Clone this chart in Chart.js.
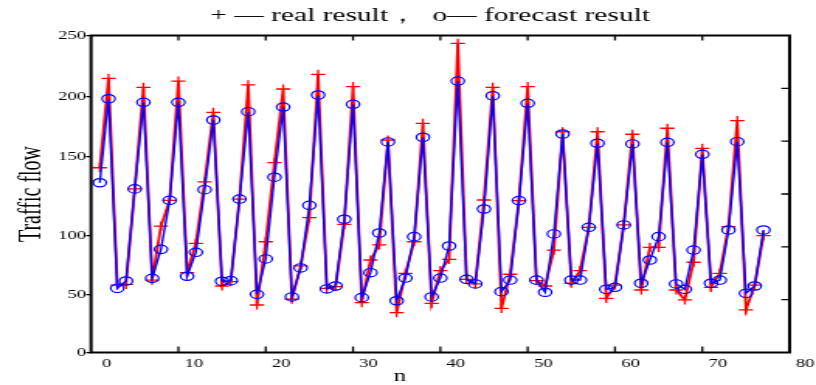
<!DOCTYPE html>
<html>
<head>
<meta charset="utf-8">
<script src="https://cdn.jsdelivr.net/npm/chart.js@4/dist/chart.umd.min.js"></script>
<style>
  body { margin: 0; background: #fff; }
  #chart { display: block; }
</style>
</head>
<body>
<!-- the source picture is stretched sideways, so the canvas is drawn narrow and scaled up -->
<canvas id="chart" width="526" height="385" style="width:816px;height:385px"></canvas>
<script>
const n = [1, 2, 3, 4, 5, 6, 7, 8, 9, 10, 11, 12, 13, 14, 15, 16, 17, 18, 19, 20,
  21, 22, 23, 24, 25, 26, 27, 28, 29, 30, 31, 32, 33, 34, 35, 36, 37, 38, 39, 40,
  41, 42, 43, 44, 45, 46, 47, 48, 49, 50, 51, 52, 53, 54, 55, 56, 57, 58, 59, 60,
  61, 62, 63, 64, 65, 66, 67, 68, 69, 70, 71, 72, 73, 74, 75, 76, 77];

const realResult = [143.0, 215.0, 58.4, 59.0, 129.6, 207.7, 62.6, 106.1, 122.4, 212.8,
  68.8, 93.6, 134.0, 187.0, 57.6, 61.2, 123.2, 209.6, 41.3, 94.9,
  146.2, 206.3, 46.3, 74.5, 111.4, 218.3, 55.6, 57.0, 107.2, 208.2,
  43.3, 79.5, 92.2, 163.9, 34.6, 68.3, 94.9, 177.8, 42.8, 70.5,
  80.1, 243.6, 63.2, 59.3, 122.6, 207.7, 38.4, 67.5, 122.2, 208.2,
  62.1, 57.6, 87.9, 170.8, 59.9, 70.5, 105.3, 170.8, 47.1, 58.4,
  106.8, 168.7, 54.2, 90.2, 90.2, 173.7, 54.2, 45.7, 77.6, 157.0,
  56.5, 68.3, 105.7, 180.0, 37.0, 58.4, 100.0];

const forecastResult = [133.5, 198.3, 55.6, 61.8, 129.6, 195.3, 64.1, 88.5, 122.4, 195.3,
  65.8, 86.0, 129.1, 180.6, 61.6, 62.1, 123.2, 187.5, 50.6, 80.4,
  137.0, 191.4, 48.3, 72.8, 119.2, 201.4, 55.1, 57.6, 110.4, 193.7,
  47.7, 68.8, 101.7, 162.3, 45.0, 64.3, 99.2, 166.2, 48.3, 64.3,
  91.3, 212.8, 63.2, 59.3, 116.9, 200.8, 52.8, 62.6, 122.2, 194.5,
  62.6, 52.3, 101.1, 168.9, 62.6, 62.6, 105.3, 161.2, 54.8, 56.5,
  106.8, 160.6, 59.9, 79.5, 99.2, 162.0, 59.3, 54.8, 87.9, 152.0,
  59.9, 62.6, 103.6, 162.5, 51.4, 57.6, 103.6];

const xTicks = [0, 10, 20, 30, 40, 50, 60, 70, 80];
const yTicks = [0, 50, 100, 150, 200, 250];
const rightTicks = [1, 2, 3, 4, 5];

// the y labels of the original are not evenly spaced; where each one sits (0..1 of the axis)
const yTickPos = [0, 0.1814, 0.3685, 0.6177, 0.8069, 1];

function toDecimal(v) {
  for (let i = 1; i < yTicks.length; i++) {
    if (v <= yTicks[i] || i === yTicks.length - 1) {
      const t = (v - yTicks[i - 1]) / (yTicks[i] - yTicks[i - 1]);
      return yTickPos[i - 1] + t * (yTickPos[i] - yTickPos[i - 1]);
    }
  }
}
function fromDecimal(d) {
  for (let i = 1; i < yTickPos.length; i++) {
    if (d <= yTickPos[i] || i === yTickPos.length - 1) {
      const t = (d - yTickPos[i - 1]) / (yTickPos[i] - yTickPos[i - 1]);
      return yTicks[i - 1] + t * (yTicks[i] - yTicks[i - 1]);
    }
  }
}

class UnevenScale extends Chart.LinearScale {
  getPixelForValue(value) {
    return this.getPixelForDecimal(toDecimal(value));
  }
  getValueForPixel(pixel) {
    return fromDecimal(this.getDecimalForPixel(pixel));
  }
}
UnevenScale.id = 'uneven';
UnevenScale.defaults = Chart.LinearScale.defaults;
Chart.register(UnevenScale);

const serif = 'Liberation Serif, Times New Roman, serif';

// frame and the inward tick marks on top, bottom and right
const frameTicks = {
  id: 'frameTicks',
  afterDatasetsDraw(chart) {
    const { ctx, chartArea: a, scales } = chart;
    ctx.save();
    ctx.strokeStyle = '#000';
    ctx.lineWidth = 1.3;
    ctx.beginPath();
    xTicks.slice(1, -1).forEach(v => {
      const px = scales.x.getPixelForValue(v);
      ctx.moveTo(px, a.bottom);
      ctx.lineTo(px, a.bottom - 6);
      ctx.moveTo(px, a.top);
      ctx.lineTo(px, a.top + 5);
    });
    rightTicks.forEach(v => {
      const py = scales.y2.getPixelForValue(v);
      ctx.moveTo(a.right, py);
      ctx.lineTo(a.right - 5.4, py);
    });
    ctx.stroke();
    ctx.lineWidth = 2;
    ctx.strokeRect(a.left, a.top, a.right - a.left, a.bottom - a.top);
    ctx.restore();
  }
};

const points = arr => arr.map((v, i) => ({ x: n[i], y: v }));

new Chart(document.getElementById('chart'), {
  type: 'line',
  data: {
    datasets: [
      {
        label: 'forecast result',
        data: points(forecastResult),
        borderColor: '#0000ff',
        borderWidth: 1.4,
        pointStyle: 'circle',
        pointRadius: 4.2,
        pointBorderWidth: 1.2,
        pointBorderColor: '#0000ff',
        pointBackgroundColor: 'rgba(0,0,0,0)',
        tension: 0,
        order: 1
      },
      {
        label: 'real result',
        data: points(realResult),
        borderColor: '#ff0000',
        borderWidth: 1.8,
        pointStyle: 'cross',
        pointRadius: 4.6,
        pointBorderWidth: 1.3,
        pointBorderColor: '#ff0000',
        tension: 0,
        order: 2
      }
    ]
  },
  options: {
    responsive: false,
    animation: false,
    devicePixelRatio: 1,
    layout: { padding: 0 },
    plugins: {
      legend: { display: false },
      tooltip: { enabled: false },
      title: {
        display: true,
        text: '      + — real result，  o— forecast result',
        color: '#000',
        font: { family: serif, size: 19, weight: 'normal', lineHeight: 1.2 },
        padding: { top: 4.6, bottom: 8.1 }
      }
    },
    scales: {
      x: {
        type: 'linear',
        min: 0,
        max: 80,
        afterBuildTicks: s => { s.ticks = xTicks.map(v => ({ value: v })); },
        afterFit: s => { s.height = 32.5; },
        ticks: {
          color: '#000',
          font: { family: serif, size: 12 },
          labelOffset: 10,
          padding: 4,
          maxRotation: 0
        },
        grid: { display: false, drawTicks: false },
        border: { display: false },
        title: {
          display: true,
          text: 'n             ',
          color: '#000',
          font: { family: serif, size: 16, lineHeight: 1 },
          padding: 0
        }
      },
      y: {
        type: 'uneven',
        position: 'left',
        min: 0,
        max: 250,
        afterBuildTicks: s => { s.ticks = yTicks.map(v => ({ value: v })); },
        afterFit: s => { s.width = 58.7; },
        ticks: {
          color: '#000',
          font: { family: serif, size: 12 },
          padding: 0
        },
        grid: {
          display: true,
          drawOnChartArea: false,
          drawTicks: true,
          tickLength: 3.2,
          color: '#000',
          lineWidth: 1.3
        },
        border: { display: false },
        title: {
          display: true,
          text: 'Traffic flow',
          color: '#000',
          font: { family: serif, size: 20, lineHeight: 1 },
          padding: { top: 11, bottom: 0 }
        }
      },
      y2: {
        type: 'linear',
        position: 'right',
        min: 0,
        max: 6,
        afterFit: s => { s.width = 17; },
        ticks: { display: false, stepSize: 1 },
        grid: { display: false, drawTicks: false },
        border: { display: false }
      }
    }
  },
  plugins: [frameTicks]
});
</script>
</body>
</html>
